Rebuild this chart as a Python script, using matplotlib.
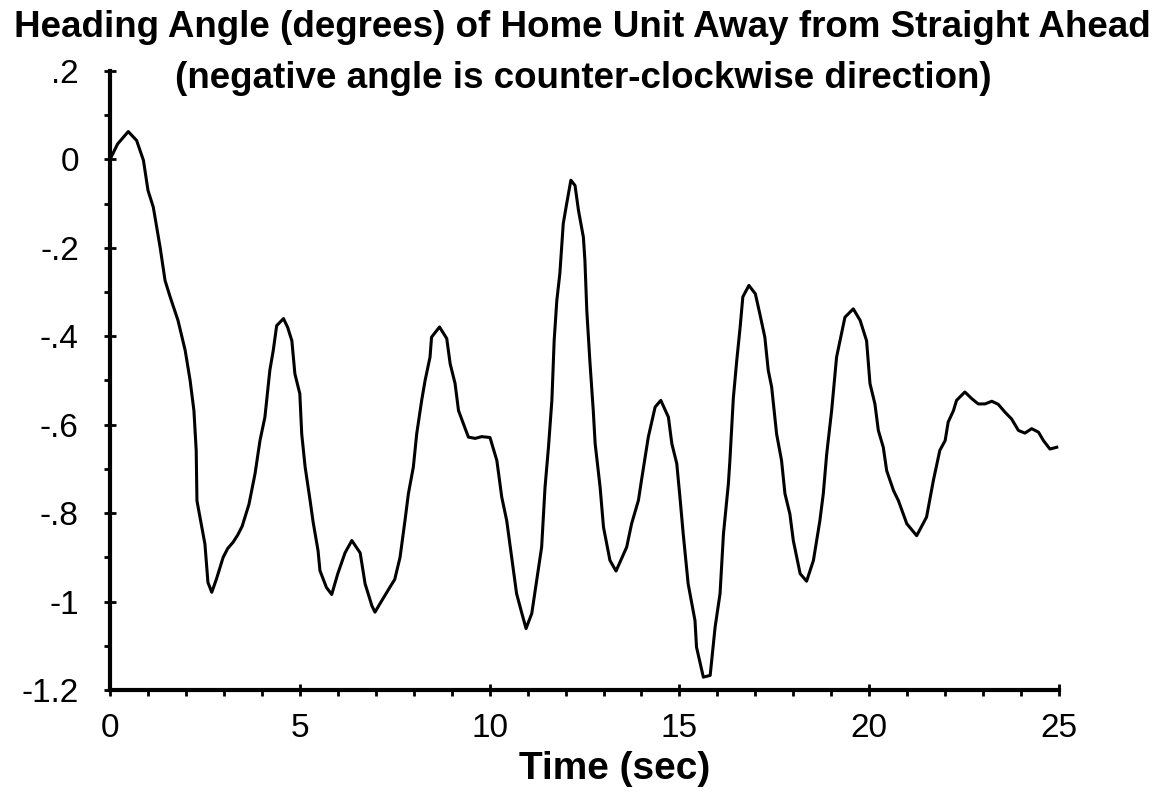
import matplotlib
matplotlib.use("Agg")
import matplotlib.pyplot as plt
from matplotlib.ticker import MultipleLocator

# heading angle trace
time_sec = [
    0.0, 0.2, 0.48, 0.70, 0.88, 1.0, 1.14, 1.32, 1.45, 1.58, 1.79, 1.98, 2.11,
    2.21, 2.27, 2.29, 2.5, 2.58, 2.68, 2.8, 2.98, 3.1, 3.24, 3.36, 3.48, 3.66,
    3.82, 3.95, 4.08, 4.21, 4.30, 4.39, 4.57, 4.68, 4.79, 4.87, 5.0, 5.05, 5.14,
    5.27, 5.35, 5.48, 5.53, 5.70, 5.84, 6.0, 6.19, 6.37, 6.59, 6.72, 6.9, 6.98,
    7.11, 7.37, 7.5, 7.64, 7.77, 7.86, 7.99, 8.08, 8.21, 8.30, 8.43, 8.47, 8.68,
    8.87, 8.96, 9.09, 9.18, 9.31, 9.44, 9.62, 9.79, 10.01, 10.19, 10.32, 10.45,
    10.58, 10.71, 10.85, 10.96, 11.11, 11.24, 11.37, 11.46, 11.55, 11.64, 11.70,
    11.77, 11.85, 11.94, 12.03, 12.14, 12.25, 12.34, 12.47, 12.51, 12.56, 12.64,
    12.73, 12.78, 12.91, 13.0, 13.17, 13.33, 13.61, 13.74, 13.92, 14.0, 14.18,
    14.36, 14.51, 14.71, 14.80, 14.93, 15.02, 15.10, 15.23, 15.41, 15.45, 15.63,
    15.81, 15.94, 16.07, 16.16, 16.29, 16.33, 16.42, 16.51, 16.60, 16.67, 16.83,
    17.0, 17.12, 17.25, 17.34, 17.43, 17.56, 17.69, 17.78, 17.91, 18.0, 18.18,
    18.35, 18.53, 18.70, 18.79, 18.88, 19.01, 19.14, 19.23, 19.36, 19.58, 19.76,
    19.93, 20.02, 20.15, 20.24, 20.37, 20.46, 20.64, 20.77, 20.99, 21.25, 21.51,
    21.69, 21.86, 22.0, 22.08, 22.22, 22.30, 22.52, 22.70, 22.87, 23.05, 23.23,
    23.40, 23.58, 23.75, 23.93, 24.10, 24.28, 24.46, 24.59, 24.76, 24.94,
]
heading_deg = [
    0.0, 0.035, 0.063, 0.043, -0.002, -0.07, -0.108, -0.199, -0.274, -0.31,
    -0.364, -0.432, -0.5, -0.568, -0.658, -0.772, -0.87, -0.957, -0.979, -0.95,
    -0.90, -0.88, -0.866, -0.85, -0.83, -0.78, -0.711, -0.636, -0.583, -0.477,
    -0.432, -0.376, -0.360, -0.38, -0.410, -0.485, -0.530, -0.621, -0.696,
    -0.771, -0.82, -0.885, -0.93, -0.968, -0.984, -0.937, -0.89, -0.862, -0.89,
    -0.96, -1.01, -1.024, -1.005, -0.968, -0.95, -0.90, -0.817, -0.756, -0.696,
    -0.620, -0.545, -0.500, -0.447, -0.402, -0.379, -0.405, -0.462, -0.507,
    -0.568, -0.598, -0.628, -0.631, -0.627, -0.629, -0.681, -0.764, -0.817,
    -0.900, -0.982, -1.027, -1.061, -1.027, -0.952, -0.877, -0.741, -0.651,
    -0.545, -0.41, -0.319, -0.258, -0.145, -0.10, -0.047, -0.059, -0.115,
    -0.176, -0.228, -0.342, -0.455, -0.568, -0.643, -0.741, -0.832, -0.907,
    -0.931, -0.877, -0.824, -0.771, -0.726, -0.628, -0.560, -0.545, -0.583,
    -0.643, -0.688, -0.77, -0.847, -0.96, -1.043, -1.103, -1.171, -1.167,
    -1.058, -0.982, -0.847, -0.733, -0.68, -0.54, -0.455, -0.379, -0.311,
    -0.285, -0.304, -0.35, -0.402, -0.477, -0.515, -0.621, -0.681, -0.756,
    -0.802, -0.862, -0.937, -0.954, -0.907, -0.817, -0.756, -0.666, -0.568,
    -0.447, -0.41, -0.357, -0.338, -0.364, -0.41, -0.507, -0.553, -0.613,
    -0.651, -0.704, -0.749, -0.772, -0.824, -0.851, -0.809, -0.726, -0.658,
    -0.636, -0.594, -0.568, -0.545, -0.526, -0.541, -0.553, -0.553, -0.547,
    -0.554, -0.572, -0.587, -0.613, -0.619, -0.609, -0.617, -0.636, -0.655,
    -0.651,
]

x_ticks = [0, 5, 10, 15, 20, 25]
y_ticks = [0.2, 0, -0.2, -0.4, -0.6, -0.8, -1.0, -1.2]
y_tick_labels = [".2", "0", "-.2", "-.4", "-.6", "-.8", "-1", "-1.2"]

plt.rcParams["font.family"] = ["Liberation Sans", "DejaVu Sans"]

fig = plt.figure(figsize=(11.68, 8.05), dpi=100)
ax = fig.add_axes([0.0942, 0.1429, 0.8125, 0.7689])

ax.plot(time_sec, heading_deg, color="black", linewidth=2.2,
        solid_joinstyle="round")

ax.set_xlim(0, 25)
ax.set_ylim(-1.2, 0.2)
ax.set_xticks(x_ticks)
ax.set_xticklabels([str(t) for t in x_ticks])
ax.set_yticks(y_ticks)
ax.set_yticklabels(y_tick_labels)
ax.xaxis.set_minor_locator(MultipleLocator(1))
ax.yaxis.set_minor_locator(MultipleLocator(0.1))

for side in ["top", "right"]:
    ax.spines[side].set_visible(False)
for side in ["left", "bottom"]:
    ax.spines[side].set_linewidth(3)

ax.tick_params(which="major", direction="inout", length=9, width=2,
               labelsize=24, pad=12)
ax.tick_params(which="minor", direction="out", length=4, width=2)
ax.tick_params(axis="y", which="major", pad=18)

fig.text(0.499, 0.966, "Heading Angle (degrees) of Home Unit Away from Straight Ahead",
         ha="center", va="center", fontsize=26.5, fontweight="bold")
fig.text(0.499, 0.903, "(negative angle is counter-clockwise direction)",
         ha="center", va="center", fontsize=26.5, fontweight="bold")
fig.text(0.5265, 0.045, "Time (sec)", ha="center", va="center",
         fontsize=28, fontweight="bold")

fig.savefig("out.png", dpi=100)
